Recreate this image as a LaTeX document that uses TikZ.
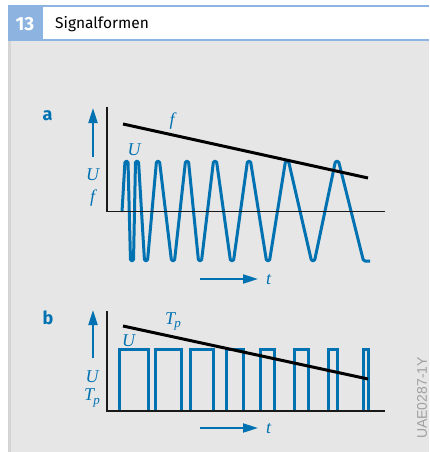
\documentclass[tikz,border=0pt]{standalone}
\usepackage{fontspec}
\setmainfont{Liberation Serif}
\setsansfont{Fira Sans}
\newfontfamily\codefont{Liberation Sans}
\usetikzlibrary{arrows.meta}
\definecolor{diagblue}{RGB}{0,114,178}
\definecolor{headblue}{RGB}{141,180,224}
\definecolor{bggray}{RGB}{230,230,230}
\definecolor{edgegray}{RGB}{212,212,212}
\definecolor{codegray}{RGB}{160,160,160}
\definecolor{axisblack}{RGB}{25,25,25}
\tikzset{
  sig/.style={draw=diagblue, line width=3pt, line join=round, rounded corners=1.5pt},
  axisline/.style={draw=axisblack, line width=1.7pt},
  trend/.style={draw=black, line width=3pt},
  dirarrow/.style={draw=diagblue, line width=2pt, -{Triangle[length=15pt,width=9pt]}},
  varlabel/.style={text=diagblue, font=\fontsize{18}{18}\selectfont\itshape, inner sep=0pt},
  partlabel/.style={text=diagblue, font=\sffamily\bfseries\fontsize{18}{18}\selectfont, inner sep=0pt},
}
\newcommand{\Tpsym}{T\kern-0.04em\raisebox{-0.4ex}{\fontsize{13}{13}\selectfont p}}
\begin{document}
\begin{tikzpicture}[x=1pt,y=-1pt]
\useasboundingbox (0,0) rectangle (429,452);
% background
\fill[white] (0,0) rectangle (429,452);
\fill[bggray] (8,41) rectangle (429,452);
\fill[edgegray] (8,41) rectangle (10.5,452);
% header
\fill[white] (8,5) rectangle (429,41);
\fill[headblue] (8,5) rectangle (429,7);
\fill[headblue] (8,39) rectangle (429,41);
\fill[headblue] (8,5) rectangle (43,41);
\node[text=white, font=\sffamily\bfseries\fontsize{19}{19}\selectfont, inner sep=0pt] (num) at (25,24) {13};
\node[anchor=west, font=\sffamily\fontsize{15.5}{15.5}\selectfont, inner sep=0pt] (title) at (55,24) {Signalformen};

% ---------- part a ----------
\node[partlabel] (la) at (47.5,116) {a};
\coordinate (a0) at (107,106.5);
\coordinate (ao) at (107,211.5);
\coordinate (ax) at (385,211.5);
\coordinate (avb) at (93,157);
\coordinate (avt) at (93,108);
\draw[dirarrow] (avb) -- (avt);
\node[varlabel] (aU) at (92.5,174.5) {U};
\node[varlabel] (af) at (92.5,198.5) {f};
\draw[sig] (122,212) -- (125,161) -- (128,161) -- (130.5,261) -- (133.5,261) -- (135.5,161) -- (138.5,161)
  -- (144.5,261) -- (147.5,261) -- (156.5,161) -- (159.5,161) -- (171.5,261) -- (174.5,261)
  -- (185.5,161) -- (188.5,161) -- (198.5,261) -- (201.5,261) -- (213.5,161) -- (216.5,161)
  -- (230.5,261) -- (233.5,261) -- (247.5,161) -- (250.5,161) -- (266.5,261) -- (269.5,261)
  -- (285.5,161) -- (288.5,161) -- (311.5,261) -- (314.5,261) -- (335.5,161) -- (338.5,161)
  -- (363.5,261) -- (370,261);
\draw[axisline] (a0) -- (ao) -- (ax);
\coordinate (fa) at (123,124);
\coordinate (fb) at (368,178);
\draw[trend] (fa) -- (fb);
\node[varlabel] (fl) at (172,121.5) {f};
\node[varlabel] (aU2) at (134,149.5) {U};
\coordinate (ata) at (200,279);
\coordinate (atb) at (258,279);
\draw[dirarrow] (ata) -- (atb);
\node[varlabel] (at) at (268.5,280) {t};

% ---------- part b ----------
\node[partlabel] (lb) at (48,318) {b};
\coordinate (b0) at (107,311);
\coordinate (bo) at (107,411);
\coordinate (bx) at (385,411);
\coordinate (bvb) at (93,358);
\coordinate (bvt) at (93,310);
\draw[dirarrow] (bvb) -- (bvt);
\node[varlabel] (bU) at (92,376.5) {U};
\node[varlabel] (bT) at (92,398) {\Tpsym};
\foreach \xa/\xb in {119.3/148, 155/181, 190/213, 226/243, 260/274, 294/308, 328/337, 363/368}{
  \draw[sig, rounded corners=0pt, line join=miter] (\xa,411) -- (\xa,349.5) -- (\xb,349.5) -- (\xb,411);
}
\draw[axisline] (b0) -- (bo) -- (bx);
\coordinate (ta) at (123,326);
\coordinate (tb) at (368,379);
\draw[trend] (ta) -- (tb);
\node[varlabel] (tl) at (173,321.5) {\Tpsym};
\node[varlabel] (bU2) at (128.5,340.5) {U};
\coordinate (bta) at (200,428);
\coordinate (btb) at (258,428);
\draw[dirarrow] (bta) -- (btb);
\node[varlabel] (bt) at (268.5,429) {t};

% code
\node[rotate=90, text=codegray, font=\codefont\fontsize{14}{14}\selectfont, inner sep=0pt] (code) at (422,398) {UAE0287-1Y};
\end{tikzpicture}
\end{document}
